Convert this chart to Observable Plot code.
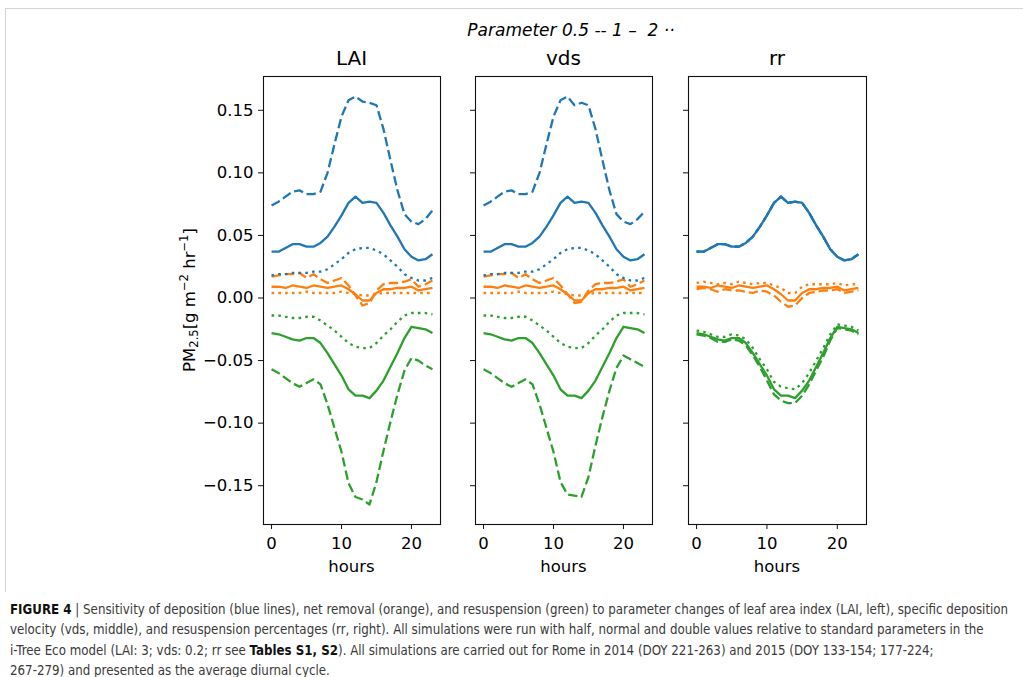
<!DOCTYPE html>
<html>
<head>
<meta charset="utf-8">
<script src="https://cdn.jsdelivr.net/npm/d3@7"></script>
<script src="https://cdn.jsdelivr.net/npm/@observablehq/plot@0.6"></script>
<style>
  body { margin: 0; background: #fff; }
  #fig { position: relative; width: 1023px; height: 677px; overflow: hidden; background: #fff;
         font-family: "DejaVu Sans", sans-serif; color: #000; }
  .t { position: absolute; white-space: nowrap; transform: translate(-50%, -50%); line-height: 1; }
  .plot { position: absolute; }
  .rule { position: absolute; background: #d4d4d4; }
  #ylab { font-size: 16.5px; transform: translate(-50%, -50%) rotate(-90deg); }
  #ylab sub, #ylab sup { font-size: 0.7em; line-height: 0; }
  #ylab sub { vertical-align: -0.25em; }
  #ylab sup { vertical-align: 0.55em; }
  #caption { position: absolute; left: 10px; top: 600px; width: 1013px; overflow: hidden;
             font-family: "Liberation Sans Narrow", "DejaVu Sans Condensed", "Liberation Sans", sans-serif;
             font-stretch: condensed; font-size: 13.2px; line-height: 20.3px; color: #3a3a3a; white-space: nowrap; }
  #caption b { color: #111; }
</style>
</head>
<body>
<div id="fig"></div>
<script>
// Average diurnal cycle, PM2.5 flux [g m-2 hr-1], hours 0..23
const hours = [0, 1, 2, 3, 4, 5, 6, 7, 8, 9, 10, 11, 12, 13, 14, 15, 16, 17, 18, 19, 20, 21, 22, 23];

const panels = ["LAI", "vds", "rr"];
const kinds = ["deposition", "net removal", "resuspension"];
const kindColors = ["#1f77b4", "#ff7f0e", "#2ca02c"];
const params = ["0.5", "1", "2"];
const yTicks = [-0.15, -0.10, -0.05, 0.00, 0.05, 0.10, 0.15];
const xTicks = [0, 10, 20];

// standard parameter run (factor 1), shared by all panels
const depBase = [0.037, 0.037, 0.040, 0.043, 0.043, 0.041, 0.041, 0.044, 0.049, 0.057, 0.066, 0.076, 0.081, 0.076, 0.077, 0.076, 0.068, 0.058, 0.049, 0.039, 0.033, 0.030, 0.031, 0.035];
const netBase = [0.009, 0.009, 0.008, 0.010, 0.009, 0.008, 0.010, 0.009, 0.008, 0.009, 0.010, 0.007, 0.003, -0.002, -0.002, 0.004, 0.007, 0.007, 0.008, 0.008, 0.009, 0.006, 0.007, 0.008];
const resBase = [-0.028, -0.029, -0.031, -0.033, -0.034, -0.032, -0.032, -0.036, -0.044, -0.053, -0.062, -0.073, -0.078, -0.078, -0.080, -0.074, -0.066, -0.055, -0.044, -0.032, -0.023, -0.024, -0.025, -0.028];

// LAI factor 0.5 and 2
const laiDepHalf = [0.074, 0.077, 0.081, 0.085, 0.086, 0.083, 0.083, 0.085, 0.100, 0.123, 0.145, 0.158, 0.161, 0.157, 0.156, 0.154, 0.135, 0.110, 0.086, 0.067, 0.061, 0.059, 0.063, 0.070];
const laiDepTwo = [0.018, 0.019, 0.019, 0.020, 0.020, 0.020, 0.021, 0.021, 0.023, 0.027, 0.031, 0.036, 0.039, 0.040, 0.040, 0.038, 0.035, 0.030, 0.025, 0.019, 0.016, 0.014, 0.014, 0.016];
const laiNetHalf = [0.017, 0.018, 0.019, 0.019, 0.020, 0.016, 0.019, 0.015, 0.012, 0.014, 0.016, 0.010, 0.002, -0.006, -0.004, 0.006, 0.011, 0.012, 0.012, 0.013, 0.015, 0.009, 0.011, 0.014];
const laiNetTwo = [0.004, 0.004, 0.004, 0.004, 0.004, 0.005, 0.004, 0.004, 0.004, 0.004, 0.005, 0.004, 0.003, 0.002, 0.002, 0.003, 0.004, 0.004, 0.004, 0.004, 0.004, 0.004, 0.004, 0.004];
const laiResHalf = [-0.057, -0.060, -0.064, -0.068, -0.071, -0.068, -0.065, -0.069, -0.085, -0.104, -0.123, -0.148, -0.159, -0.161, -0.165, -0.147, -0.122, -0.099, -0.077, -0.058, -0.048, -0.050, -0.054, -0.057];
const laiResTwo = [-0.014, -0.014, -0.015, -0.016, -0.016, -0.015, -0.015, -0.018, -0.022, -0.026, -0.031, -0.036, -0.039, -0.040, -0.040, -0.036, -0.030, -0.025, -0.019, -0.014, -0.012, -0.012, -0.012, -0.013];

// vds factor 0.5 and 2
const vdsDepHalf = [0.074, 0.077, 0.081, 0.085, 0.086, 0.083, 0.083, 0.085, 0.100, 0.123, 0.145, 0.158, 0.161, 0.154, 0.156, 0.154, 0.135, 0.110, 0.086, 0.067, 0.061, 0.059, 0.063, 0.069];
const vdsDepTwo = [0.018, 0.019, 0.019, 0.020, 0.020, 0.020, 0.021, 0.021, 0.023, 0.027, 0.031, 0.036, 0.039, 0.040, 0.040, 0.038, 0.035, 0.030, 0.025, 0.019, 0.016, 0.014, 0.014, 0.016];
const vdsNetHalf = [0.017, 0.018, 0.019, 0.019, 0.020, 0.016, 0.019, 0.015, 0.012, 0.014, 0.016, 0.010, 0.003, -0.004, -0.003, 0.006, 0.011, 0.012, 0.012, 0.013, 0.015, 0.009, 0.011, 0.014];
const vdsNetTwo = [0.004, 0.004, 0.004, 0.004, 0.004, 0.005, 0.004, 0.004, 0.004, 0.004, 0.005, 0.004, 0.003, 0.002, 0.002, 0.003, 0.004, 0.004, 0.004, 0.004, 0.004, 0.004, 0.004, 0.004];
const vdsResHalf = [-0.057, -0.060, -0.064, -0.068, -0.071, -0.068, -0.065, -0.069, -0.085, -0.104, -0.123, -0.147, -0.157, -0.158, -0.159, -0.143, -0.118, -0.095, -0.074, -0.056, -0.046, -0.049, -0.052, -0.055];
const vdsResTwo = [-0.014, -0.014, -0.015, -0.016, -0.016, -0.015, -0.015, -0.018, -0.022, -0.026, -0.031, -0.036, -0.039, -0.040, -0.040, -0.036, -0.030, -0.025, -0.019, -0.014, -0.012, -0.012, -0.012, -0.013];

// rr factor 0.5 and 2 (deposition does not depend on rr)
const rrDepHalf = depBase;
const rrDepTwo = depBase;
const rrNetHalf = [0.007, 0.008, 0.007, 0.005, 0.007, 0.006, 0.006, 0.005, 0.004, 0.006, 0.005, 0.002, -0.003, -0.007, -0.006, 0.000, 0.004, 0.005, 0.006, 0.006, 0.007, 0.004, 0.005, 0.006];
const rrNetTwo = [0.012, 0.013, 0.012, 0.011, 0.012, 0.011, 0.013, 0.012, 0.011, 0.012, 0.012, 0.010, 0.008, 0.004, 0.004, 0.009, 0.011, 0.011, 0.011, 0.011, 0.012, 0.010, 0.011, 0.011];
const rrResHalf = [-0.029, -0.030, -0.032, -0.035, -0.035, -0.033, -0.034, -0.038, -0.046, -0.055, -0.066, -0.077, -0.082, -0.084, -0.084, -0.078, -0.069, -0.058, -0.047, -0.034, -0.024, -0.025, -0.026, -0.029];
const rrResTwo = [-0.026, -0.027, -0.029, -0.031, -0.031, -0.029, -0.030, -0.033, -0.040, -0.049, -0.057, -0.067, -0.071, -0.072, -0.073, -0.068, -0.060, -0.050, -0.040, -0.029, -0.021, -0.022, -0.023, -0.026];

const runs = {
  LAI: {"0.5": [laiDepHalf, laiNetHalf, laiResHalf], "1": [depBase, netBase, resBase], "2": [laiDepTwo, laiNetTwo, laiResTwo]},
  vds: {"0.5": [vdsDepHalf, vdsNetHalf, vdsResHalf], "1": [depBase, netBase, resBase], "2": [vdsDepTwo, vdsNetTwo, vdsResTwo]},
  rr:  {"0.5": [rrDepHalf, rrNetHalf, rrResHalf],   "1": [depBase, netBase, resBase], "2": [rrDepTwo, rrNetTwo, rrResTwo]}
};

// line style for each parameter factor
const lineWidth = 2.3;
const dashFor = {"0.5": "9.4,4", "1": null, "2": "2.6,4.2"};

function rowsFor(panel, param) {
  const rows = [];
  runs[panel][param].forEach((values, k) => {
    values.forEach((v, i) => rows.push({hour: hours[i], value: v, kind: kinds[k]}));
  });
  return rows;
}

const fig = document.getElementById("fig");

// panel geometry: svg left, inner left margin, inner width
const layout = [
  {panel: "LAI", left: 170, ml: 93, inner: 177, labels: true},
  {panel: "vds", left: 442, ml: 33, inner: 177, labels: false},
  {panel: "rr",  left: 654, ml: 34, inner: 178, labels: false}
];
const svgTop = 40, mt = 36, innerH = 448, mb = 50, mr = 2;

layout.forEach(L => {
  const marks = [];
  params.forEach(p => {
    marks.push(Plot.line(rowsFor(L.panel, p), {
      x: "hour", y: "value", z: "kind", stroke: "kind",
      strokeWidth: lineWidth,
      strokeDasharray: dashFor[p] ?? undefined,
      strokeLinecap: "butt", strokeLinejoin: "round"
    }));
  });
  marks.push(Plot.frame({stroke: "#111", strokeWidth: 1.1}));
  marks.push(Plot.axisX({ticks: xTicks, tickSize: 5, tickPadding: 8, tickFormat: d => String(d), label: null, stroke: "#111"}));
  marks.push(Plot.axisY({
    ticks: yTicks, tickSize: 5, tickPadding: 5, label: null, stroke: "#111",
    tickFormat: L.labels ? d3.format(".2f") : () => ""
  }));

  const chart = Plot.plot({
    width: L.ml + L.inner + mr,
    height: mt + innerH + mb,
    marginLeft: L.ml, marginRight: mr, marginTop: mt, marginBottom: mb,
    x: {domain: [-1.15, 24.15], axis: null},
    y: {domain: [-0.181, 0.177], axis: null},
    color: {domain: kinds, range: kindColors},
    style: {background: "transparent", fontFamily: "DejaVu Sans", fontSize: "16.5px", color: "#000", overflow: "visible"},
    marks
  });
  chart.classList.add("plot");
  chart.style.left = L.left + "px";
  chart.style.top = svgTop + "px";
  fig.appendChild(chart);

  const cx = L.left + L.ml + L.inner / 2;
  const title = document.createElement("div");
  title.className = "t";
  title.style.cssText = `left:${cx}px;top:58px;font-size:20px;`;
  title.textContent = L.panel;
  fig.appendChild(title);

  const xl = document.createElement("div");
  xl.className = "t";
  xl.style.cssText = `left:${cx}px;top:567px;font-size:16.5px;`;
  xl.textContent = "hours";
  fig.appendChild(xl);
});

// figure box rules, headings and caption
fig.insertAdjacentHTML("beforeend", `
  <div class="rule" style="left:5px;top:8px;width:1018px;height:1px;"></div>
  <div class="rule" style="left:5px;top:8px;width:1px;height:584px;"></div>
  <div class="t" style="left:571px;top:30px;font-size:17px;font-style:italic;">Parameter 0.5 -- 1 \u2013&nbsp; 2 \u00b7\u00b7</div>
  <div class="t" id="ylab" style="left:190px;top:300px;">PM<sub>2.5</sub>[g m<sup>\u22122</sup> hr<sup>\u22121</sup>]</div>
  <div id="caption">
    <b>FIGURE 4</b> | Sensitivity of deposition (blue lines), net removal (orange), and resuspension (green) to parameter changes of leaf area index (LAI, left), specific deposition<br>
    velocity (vds, middle), and resuspension percentages (rr, right). All simulations were run with half, normal and double values relative to standard parameters in the<br>
    i-Tree Eco model (LAI: 3; vds: 0.2; rr see <b>Tables S1, S2</b>). All simulations are carried out for Rome in 2014 (DOY 221-263) and 2015 (DOY 133-154; 177-224;<br>
    267-279) and presented as the average diurnal cycle.
  </div>
`);
</script>
</body>
</html>
